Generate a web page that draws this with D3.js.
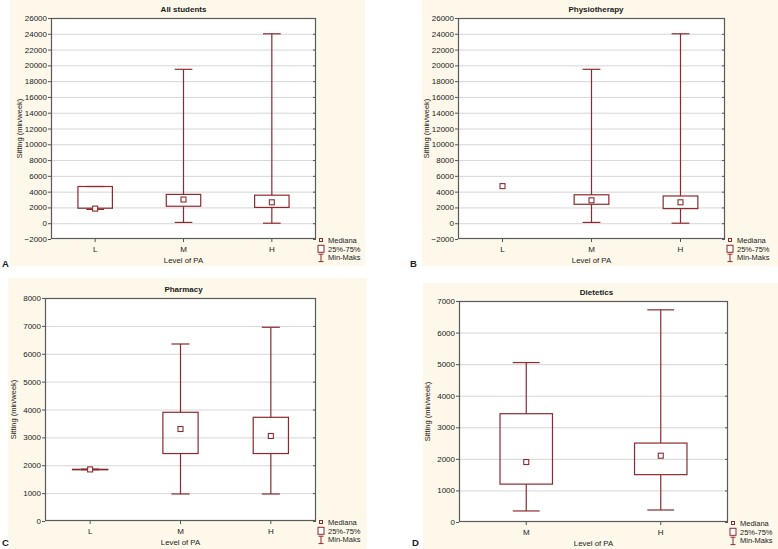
<!DOCTYPE html>
<html>
<head>
<meta charset="utf-8">
<script src="https://cdn.jsdelivr.net/npm/d3@7"></script>
<style>
  body { margin: 0; background: #fff; }
  text { font-family: "Liberation Sans", Arial, sans-serif; fill: #1a1a1a; }
</style>
</head>
<body>
<svg id="chart" width="778" height="549"></svg>
<script>
// each row: [min, q1, median, q3, max]
var levels3 = ["L", "M", "H"];
var levels2 = ["M", "H"];
var allStudents = [[1750, 1900, 1850, 4650, 4650], [100, 2150, 3000, 3650, 19500], [0, 2000, 2650, 3550, 24000]];
var physiotherapy = [[null, null, 4700, null, null], [100, 2400, 2900, 3600, 19500], [0, 1850, 2650, 3450, 24000]];
var pharmacy = [[1840, 1845, 1850, 1855, 1860], [970, 2420, 3300, 3900, 6350], [970, 2420, 3050, 3720, 6950]];
var dietetics = [[350, 1200, 1900, 3430, 5050], [380, 1500, 2100, 2500, 6720]];
var legendLabels = ["Mediana", "25%-75%", "Min-Maks"];

var red = "#8e2a2e";
var svg = d3.select("#chart");

var panels = [
  { title: "All students", letter: "A", cats: levels3, stats: allStudents, domain: [-2000, 26000], step: 2000,
    bg: [10, 0, 355, 266], l: 51, r: 316, t: 18, b: 239, lx: 2, ly: 267 },
  { title: "Physiotherapy", letter: "B", cats: levels3, stats: physiotherapy, domain: [-2000, 26000], step: 2000,
    bg: [422, 0, 356, 266], l: 458, r: 725, t: 18, b: 239, lx: 410, ly: 267 },
  { title: "Pharmacy", letter: "C", cats: levels3, stats: pharmacy, domain: [0, 8000], step: 1000,
    bg: [8, 278, 359, 271], l: 45, r: 316, t: 298, b: 521, lx: 2, ly: 546 },
  { title: "Dietetics", letter: "D", cats: levels2, stats: dietetics, domain: [0, 7000], step: 1000,
    bg: [423, 283, 355, 266], l: 459, r: 728, t: 301, b: 522, lx: 412, ly: 546 }
];

panels.forEach(drawPanel);

function drawPanel(p) {
  var g = svg.append("g");
  g.append("rect")
    .attr("x", p.bg[0]).attr("y", p.bg[1])
    .attr("width", p.bg[2]).attr("height", p.bg[3])
    .attr("fill", "#fdf8ea");
  g.append("rect")
    .attr("x", p.l).attr("y", p.t)
    .attr("width", p.r - p.l).attr("height", p.b - p.t)
    .attr("fill", "#fff");

  var x = d3.scaleBand().domain(p.cats).range([p.l, p.r]).padding(0);
  var y = d3.scaleLinear().domain(p.domain).range([p.b, p.t]);
  var ticks = d3.range(p.domain[0], p.domain[1] + 1, p.step);

  // gridlines
  g.append("g").selectAll("line")
    .data(ticks.slice(1, -1))
    .enter().append("line")
    .attr("x1", p.l).attr("x2", p.r)
    .attr("y1", function(d) { return y(d) + 0.5; })
    .attr("y2", function(d) { return y(d) + 0.5; })
    .attr("stroke", "#d6d6d6").attr("stroke-width", 1);

  var yAxis = g.append("g")
    .attr("transform", "translate(" + p.l + ",0)")
    .call(d3.axisLeft(y).tickValues(ticks).tickSize(3).tickFormat(d3.format("d")));
  yAxis.select(".domain").remove();
  yAxis.selectAll("line").attr("stroke", "#555");
  yAxis.selectAll("text").attr("font-size", 8).attr("x", -4)
    .style("font-family", "'Liberation Sans', Arial, sans-serif").attr("fill", "#1a1a1a");

  var yRight = g.append("g")
    .attr("transform", "translate(" + p.r + ",0)")
    .call(d3.axisLeft(y).tickValues(ticks).tickSize(3).tickFormat(""));
  yRight.select(".domain").remove();
  yRight.selectAll("line").attr("stroke", "#555");

  var xAxis = g.append("g")
    .attr("transform", "translate(0," + p.b + ")")
    .call(d3.axisBottom(x).tickSize(3).tickPadding(4));
  xAxis.select(".domain").remove();
  xAxis.selectAll("line").attr("stroke", "#555");
  xAxis.selectAll("text").attr("font-size", 8)
    .style("font-family", "'Liberation Sans', Arial, sans-serif").attr("fill", "#1a1a1a");

  // frame
  g.append("rect")
    .attr("x", p.l + 0.5).attr("y", p.t + 0.5)
    .attr("width", p.r - p.l - 1).attr("height", p.b - p.t - 1)
    .attr("fill", "none").attr("stroke", "#5a5a5a").attr("stroke-width", 1.2);

  var bw = x.bandwidth() * 0.39;
  var cw = x.bandwidth() * 0.2;

  var box = g.append("g").selectAll("g")
    .data(p.stats)
    .enter().append("g")
    .attr("transform", function(d, i) { return "translate(" + (x(p.cats[i]) + x.bandwidth() / 2) + ",0)"; });

  box.filter(function(d) { return d[0] != null; }).each(function(d) {
    var s = d3.select(this);
    s.append("line").attr("x1", 0).attr("x2", 0)
      .attr("y1", y(d[4])).attr("y2", y(d[3]))
      .attr("stroke", red).attr("stroke-width", 1.2);
    s.append("line").attr("x1", 0).attr("x2", 0)
      .attr("y1", y(d[1])).attr("y2", y(d[0]))
      .attr("stroke", red).attr("stroke-width", 1.2);
    s.append("line").attr("x1", -cw / 2).attr("x2", cw / 2)
      .attr("y1", y(d[4])).attr("y2", y(d[4]))
      .attr("stroke", red).attr("stroke-width", 1.2);
    s.append("line").attr("x1", -cw / 2).attr("x2", cw / 2)
      .attr("y1", y(d[0])).attr("y2", y(d[0]))
      .attr("stroke", red).attr("stroke-width", 1.2);
    s.append("rect")
      .attr("x", -bw / 2).attr("width", bw)
      .attr("y", y(d[3])).attr("height", Math.max(0.5, y(d[1]) - y(d[3])))
      .attr("fill", "none").attr("stroke", red).attr("stroke-width", 1.2);
  });

  box.append("rect")
    .attr("x", -2.5).attr("width", 5)
    .attr("y", function(d) { return y(d[2]) - 2.5; }).attr("height", 5)
    .attr("fill", "#fff").attr("stroke", red).attr("stroke-width", 1.1);

  // titles
  g.append("text")
    .attr("x", (p.bg[0] + p.bg[0] + p.bg[2]) / 2 - 4).attr("y", p.t - 6)
    .attr("text-anchor", "middle").attr("font-size", 8).attr("font-weight", "bold")
    .text(p.title);
  g.append("text")
    .attr("x", (p.l + p.r) / 2).attr("y", p.b + 24)
    .attr("text-anchor", "middle").attr("font-size", 7.8)
    .text("Level of PA");
  g.append("text")
    .attr("transform", "translate(" + (p.l - 29) + "," + ((p.t + p.b) / 2) + ") rotate(-90)")
    .attr("text-anchor", "middle").attr("font-size", 7.5)
    .text("Sitting (min/week)");
  g.append("text")
    .attr("x", p.lx).attr("y", p.ly)
    .attr("font-size", 9.5).attr("font-weight", "bold")
    .text(p.letter);

  // legend
  var lg = g.append("g").attr("transform", "translate(" + (p.r + 5) + "," + (p.b + 1) + ")");
  lg.selectAll("text")
    .data(legendLabels)
    .enter().append("text")
    .attr("x", 7).attr("y", function(d, i) { return i * 8.8 + 2.8; })
    .attr("font-size", 7.5)
    .text(function(d) { return d; });
  lg.append("rect").attr("x", -1.5).attr("y", -1.5).attr("width", 3).attr("height", 3)
    .attr("fill", "#fff").attr("stroke", red).attr("stroke-width", 1);
  lg.append("rect").attr("x", -3).attr("y", 8.8 - 3.5).attr("width", 6).attr("height", 7)
    .attr("fill", "#fff").attr("stroke", red).attr("stroke-width", 1);
  lg.append("path")
    .attr("d", "M-2.5,14.2H2.5M0,14.2V21.6M-2.5,21.6H2.5")
    .attr("fill", "none").attr("stroke", red).attr("stroke-width", 1);
}
</script>
</body>
</html>
